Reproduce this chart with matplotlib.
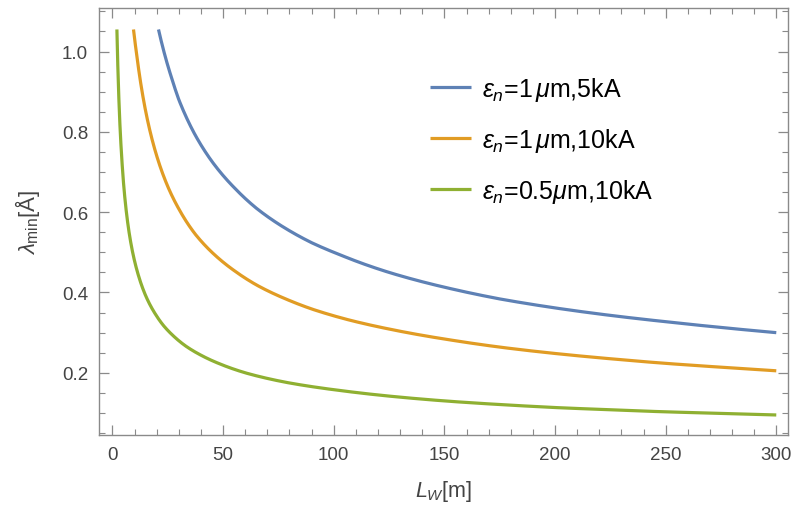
import matplotlib
matplotlib.use("Agg")
import matplotlib.pyplot as plt
from matplotlib.ticker import MultipleLocator
import numpy as np

# ---- data ----
L_blue = [20.8, 23, 26.8, 30, 37.3, 45, 55.4, 65, 78.7, 90, 102.8, 125, 152.5, 175, 202, 225, 248.8, 275, 300]
lam_blue = [1.055, 1.005, 0.933, 0.880, 0.793, 0.726, 0.659, 0.610, 0.558, 0.524, 0.494, 0.450, 0.410, 0.384, 0.360, 0.343, 0.328, 0.313, 0.300]

L_orange = [9.5, 11, 13.3, 16, 19.3, 25.3, 30, 37.3, 48.6, 55.4, 65, 78.7, 90, 107.3, 125, 152.5, 175, 202, 225, 248.8, 275, 300]
lam_orange = [1.055, 0.990, 0.903, 0.825, 0.753, 0.660, 0.608, 0.546, 0.482, 0.453, 0.419, 0.383, 0.359, 0.331, 0.309, 0.282, 0.264, 0.247, 0.235, 0.224, 0.214, 0.205]

L_green = [2.0, 2.5, 3.0, 3.5, 4.2, 5.0, 6.0, 7.2, 9.0, 11.7, 15, 19.3, 23, 27.5, 33, 39.6, 48.6, 60, 78.7, 102.8, 125, 152.5, 175, 202, 225, 248.8, 275, 300]
lam_green = [1.055, 0.948, 0.866, 0.802, 0.734, 0.672, 0.614, 0.561, 0.503, 0.443, 0.392, 0.347, 0.318, 0.292, 0.267, 0.245, 0.222, 0.200, 0.176, 0.156, 0.142, 0.129, 0.121, 0.113, 0.108, 0.103, 0.099, 0.095]

labels = [r'$\epsilon_n$=1$\,\mu$m,5kA', r'$\epsilon_n$=1$\,\mu$m,10kA', r'$\epsilon_n$=0.5$\mu$m,10kA']
colors = ['#5E81B5', '#E19C24', '#8FB032']

plt.rcParams['font.family'] = ['Liberation Sans', 'DejaVu Sans']
plt.rcParams['mathtext.fontset'] = 'custom'
plt.rcParams['mathtext.rm'] = 'Liberation Sans'
plt.rcParams['mathtext.it'] = 'Liberation Sans:italic'
plt.rcParams['mathtext.bf'] = 'Liberation Sans:bold'

fig = plt.figure(figsize=(8.0, 5.1), dpi=100)
ax = fig.add_axes([0.124, 0.145, 0.861, 0.837])


def smooth_path(x, y):
    # draw through the read points, joining them smoothly in log-log space
    lx, ly = np.log(x), np.log(y)
    t = np.linspace(lx[0], lx[-1], 600)
    return np.exp(t), np.exp(np.interp(t, lx, ly))


series = [(L_blue, lam_blue), (L_orange, lam_orange), (L_green, lam_green)]
for (x, y), c, lab in zip(series, colors, labels):
    xs, ys = smooth_path(x, y)
    ax.plot(xs, ys, color=c, lw=2.3, label=lab, solid_capstyle='butt')

ax.set_xlim(-6, 305.3)
ax.set_ylim(0.045, 1.108)

ax.xaxis.set_major_locator(MultipleLocator(50))
ax.xaxis.set_minor_locator(MultipleLocator(10))
ax.yaxis.set_minor_locator(MultipleLocator(0.05))
ax.set_yticks([0.2, 0.4, 0.6, 0.8, 1.0])
ax.set_yticklabels(['0.2', '0.4', '0.6', '0.8', '1.0'])

frame_c = '#8a8a8a'
for s in ax.spines.values():
    s.set_color(frame_c)
    s.set_linewidth(1.0)
ax.tick_params(which='both', direction='in', top=True, right=True, color=frame_c, labelcolor='#444444', labelsize=13.5)
ax.tick_params(which='major', length=7, width=0.9, pad=8)
ax.tick_params(which='minor', length=4, width=0.8)

ax.set_xlabel(r'$L_W$[m]', fontsize=15.5, color='#444444', labelpad=11)
ax.set_ylabel(r'$\lambda_{\rm min}$[Å]', fontsize=16, color='#444444', labelpad=14)

leg = ax.legend(loc='upper left', bbox_to_anchor=(0.480, 0.843), frameon=False, fontsize=18,
                handlelength=1.65, handletextpad=0.45, labelspacing=0.92,
                borderpad=0, borderaxespad=0)

fig.savefig('out.png', dpi=100)
